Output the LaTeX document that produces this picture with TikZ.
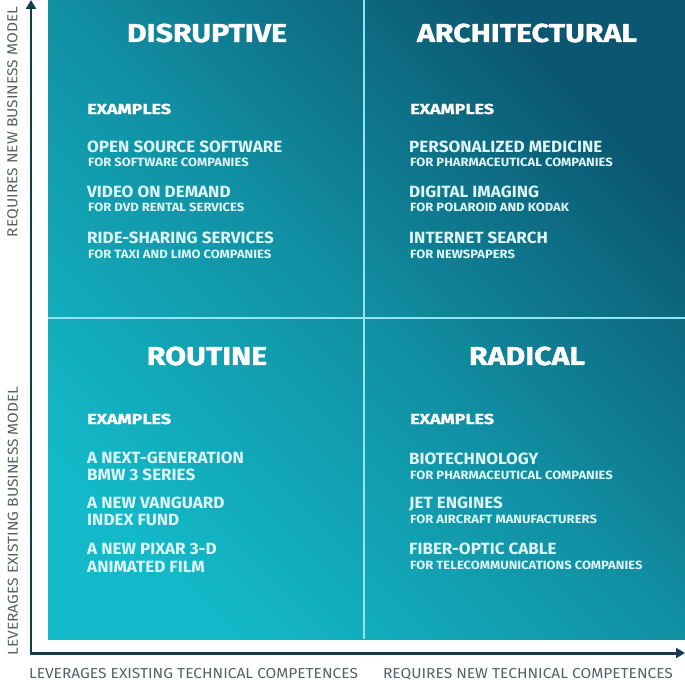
\documentclass[tikz,border=0pt]{standalone}
\usepackage{fontspec}
\setmainfont{Fira Sans}
% widened faces for the quadrant lettering
\newfontfamily\titleface{Fira Sans}[BoldFeatures={FakeStretch=1.17,FakeBold=1.2}]
\newfontfamily\headface{Fira Sans}[BoldFeatures={FakeStretch=1.24,FakeBold=1.2}]
\newfontfamily\itemface{Fira Sans}[BoldFeatures={FakeStretch=1.05}]
\newfontfamily\subface{Fira Sans}[BoldFeatures={FakeStretch=1.09}]
\newfontfamily\axisface{Fira Sans}[FakeStretch=1.075]
\usetikzlibrary{arrows.meta}

\definecolor{tealdark}{HTML}{0B5670}
\definecolor{tealmid}{HTML}{1190A3}
\definecolor{teallight}{HTML}{13B9C8}
\definecolor{divider}{HTML}{8FE6F0}
\definecolor{axisnavy}{HTML}{173B4E}
\definecolor{axisgray}{HTML}{5A5F63}
\definecolor{itemtext}{HTML}{DDF5F8}

\tikzset{
  quadtitle/.style={font=\titleface\fontsize{26}{26}\selectfont\bfseries, text=white, inner sep=0pt},
  exhead/.style={font=\headface\fontsize{14.5}{14.5}\selectfont\bfseries, text=white, anchor=west, inner sep=0pt},
  itemmain/.style={font=\itemface\fontsize{16.3}{16.3}\selectfont\bfseries, text=itemtext, anchor=west, inner sep=0pt},
  itemsub/.style={font=\subface\fontsize{12}{12}\selectfont\bfseries, text=itemtext, anchor=west, inner sep=0pt},
  axislabel/.style={font=\axisface\fontsize{14.5}{14.5}\selectfont, text=axisgray, inner sep=0pt},
  axisline/.style={draw=axisnavy, line width=3pt, -{Triangle[length=9pt,width=10pt]}},
  divline/.style={draw=divider, line width=1.8pt}
}

\begin{document}
\begin{tikzpicture}[x=1bp,y=-1bp]
\useasboundingbox (0,0) rectangle (685,684);
\fill[white] (0,0) rectangle (685,684);

% quadrant field with diagonal gradient
\shade[shading=axis, top color=tealdark, bottom color=teallight, middle color=tealmid, shading angle=-45]
  (48,0) rectangle (685,639);

% quadrant dividers
\coordinate (vtop) at (364,0);
\coordinate (vbot) at (364,639);
\coordinate (hleft) at (48,318);
\coordinate (hright) at (685,318);
\draw[divline] (vtop) -- (vbot);
\draw[divline] (hleft) -- (hright);

% axes
\coordinate (origin) at (31,653);
\coordinate (ytip) at (31,0);
\coordinate (xtip) at (685,653);
\draw[axisline] ([yshift=-1.5bp]origin) -- (ytip);
\draw[axisline] ([xshift=-1.5bp]origin) -- (xtip);

% axis labels
\node[axislabel] (xl1) at (193.5,674) {LEVERAGES EXISTING TECHNICAL COMPETENCES};
\node[axislabel] (xl2) at (528,674) {REQUIRES NEW TECHNICAL COMPETENCES};
\node[axislabel, rotate=90] (yl1) at (13,122) {REQUIRES NEW BUSINESS MODEL};
\node[axislabel, rotate=90] (yl2) at (13,521) {LEVERAGES EXISTING BUSINESS MODEL};

% quadrant titles
\node[quadtitle] (tdis) at (207,33) {DISRUPTIVE};
\node[quadtitle] (tarc) at (527,33) {ARCHITECTURAL};
\node[quadtitle] (trou) at (207,356) {ROUTINE};
\node[quadtitle] (trad) at (527,356) {RADICAL};

% disruptive
\node[exhead] (dex) at (87,109) {EXAMPLES};
\node[itemmain] (d1) at (87,147) {OPEN SOURCE SOFTWARE};
\node[itemsub]  (d1s) at (88,162.5) {FOR SOFTWARE COMPANIES};
\node[itemmain] (d2) at (87,191.5) {VIDEO ON DEMAND};
\node[itemsub]  (d2s) at (88,207) {FOR DVD RENTAL SERVICES};
\node[itemmain] (d3) at (87,237.5) {RIDE-SHARING SERVICES};
\node[itemsub]  (d3s) at (88,254) {FOR TAXI AND LIMO COMPANIES};

% architectural
\node[exhead] (aex) at (410,109) {EXAMPLES};
\node[itemmain] (a1) at (409,147) {PERSONALIZED MEDICINE};
\node[itemsub]  (a1s) at (410,162.5) {FOR PHARMACEUTICAL COMPANIES};
\node[itemmain] (a2) at (409,191.5) {DIGITAL IMAGING};
\node[itemsub]  (a2s) at (410,207) {FOR POLAROID AND KODAK};
\node[itemmain] (a3) at (409,237.5) {INTERNET SEARCH};
\node[itemsub]  (a3s) at (410,254) {FOR NEWSPAPERS};

% routine
\node[exhead] (rex) at (87,419) {EXAMPLES};
\node[itemmain] (r1) at (87,457.5) {A NEXT-GENERATION};
\node[itemmain] (r1b) at (87,475) {BMW 3 SERIES};
\node[itemmain] (r2) at (87,503) {A NEW VANGUARD};
\node[itemmain] (r2b) at (87,520.5) {INDEX FUND};
\node[itemmain] (r3) at (87,549) {A NEW PIXAR 3-D};
\node[itemmain] (r3b) at (87,566.5) {ANIMATED FILM};

% radical
\node[exhead] (xex) at (410,419) {EXAMPLES};
\node[itemmain] (x1) at (409,459) {BIOTECHNOLOGY};
\node[itemsub]  (x1s) at (410,475) {FOR PHARMACEUTICAL COMPANIES};
\node[itemmain] (x2) at (409,504) {JET ENGINES};
\node[itemsub]  (x2s) at (410,519.5) {FOR AIRCRAFT MANUFACTURERS};
\node[itemmain] (x3) at (409,549) {FIBER-OPTIC CABLE};
\node[itemsub]  (x3s) at (410,565.5) {FOR TELECOMMUNICATIONS COMPANIES};
\end{tikzpicture}
\end{document}
